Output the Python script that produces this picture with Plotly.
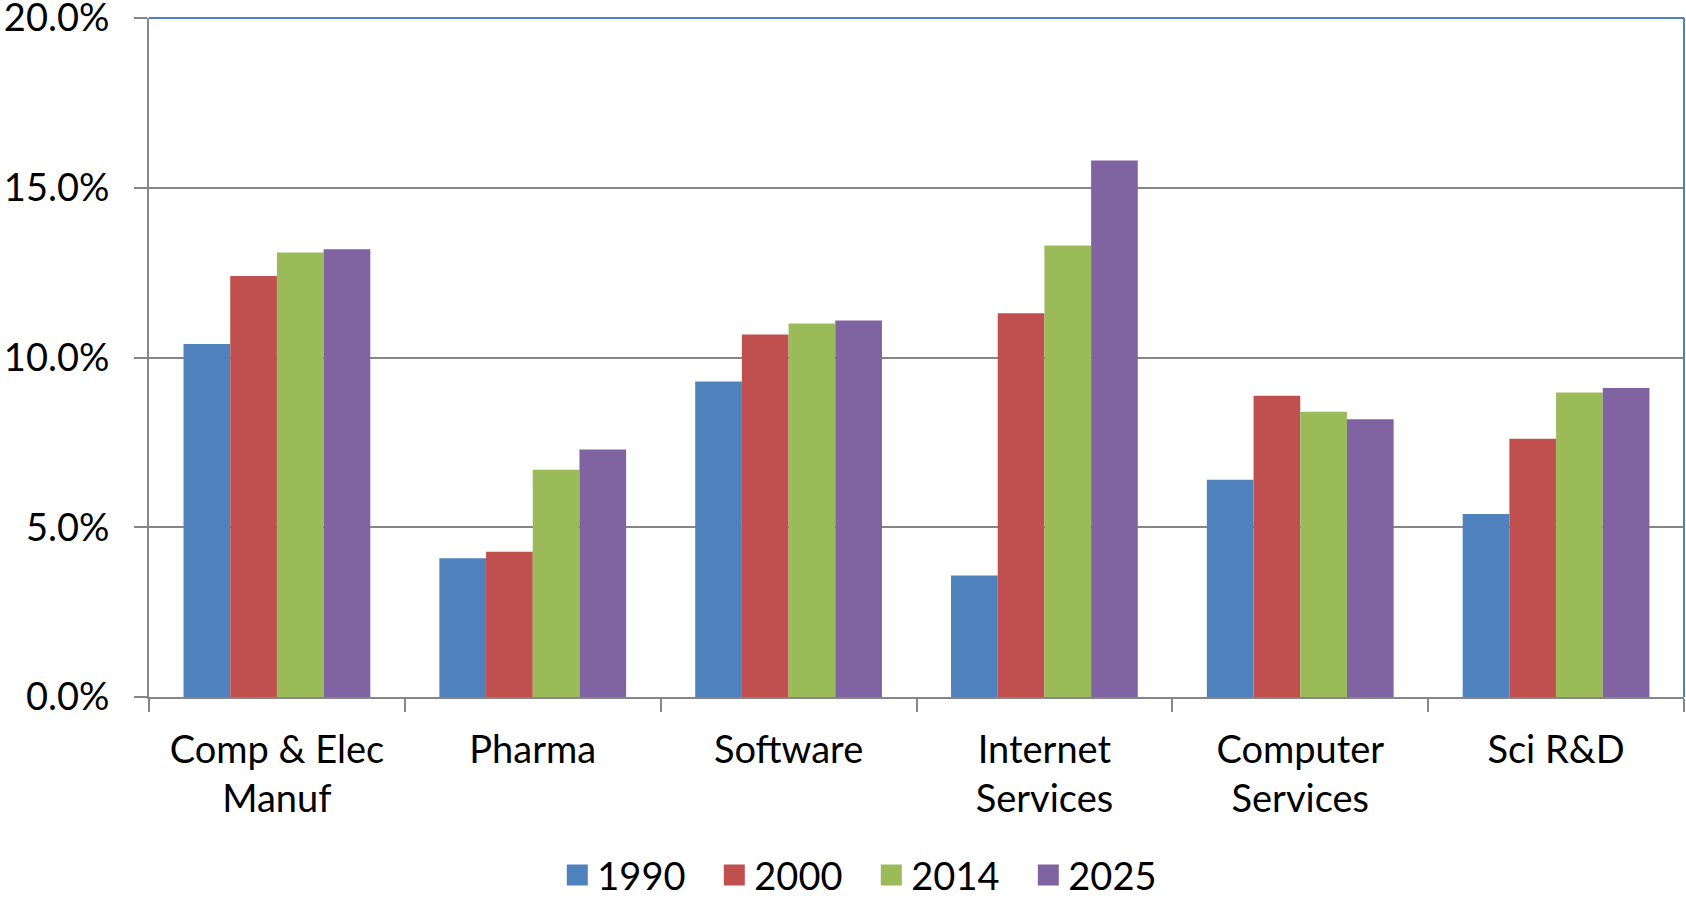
import plotly.graph_objects as go

categories = ["Comp & Elec<br>Manuf", "Pharma", "Software", "Internet<br>Services", "Computer<br>Services", "Sci R&D"]
years = ["1990", "2000", "2014", "2025"]
v1990 = [10.40, 4.09, 9.29, 3.58, 6.40, 5.39]
v2000 = [12.40, 4.28, 10.68, 11.30, 8.87, 7.61]
v2014 = [13.09, 6.69, 11.00, 13.30, 8.40, 8.97]
v2025 = [13.19, 7.29, 11.09, 15.80, 8.18, 9.10]
colors = ["#4F81BD", "#C0504D", "#9BBB59", "#8064A2"]
series = [v1990, v2000, v2014, v2025]

FONT = "Lato"
fig = go.Figure()
for name, vals, col in zip(years, series, colors):
    fig.add_trace(go.Bar(
        x=categories, y=[v / 100 for v in vals], name=name,
        marker=dict(color=col, line=dict(width=0)), showlegend=False,
    ))
for name, col in zip(years, colors):
    fig.add_trace(go.Scatter(
        x=[None], y=[None], mode="markers", name=name,
        marker=dict(symbol="square", size=16, color=col, line=dict(color=col, width=8)),
    ))

fig.update_layout(
    width=1686, height=898,
    margin=dict(l=149, r=2, t=18, b=201, autoexpand=False),
    paper_bgcolor="white", plot_bgcolor="white",
    barmode="group", bargap=0.27, bargroupgap=0,
    font=dict(family=FONT, size=38, color="black"),
    legend=dict(orientation="h", x=0.266, xanchor="left", y=-0.2625, yanchor="middle",
                font=dict(family=FONT, size=38), itemwidth=30, entrywidth=112,
                tracegroupgap=0, bgcolor="rgba(0,0,0,0)"),
    xaxis=dict(
        type="category", tickson="boundaries", ticks="outside", ticklen=13, tickwidth=2,
        tickcolor="#868686", showline=True, linecolor="#868686", linewidth=2,
        showgrid=False, tickfont=dict(family=FONT, size=38), ticklabelstandoff=18,
        automargin=False,
    ),
    yaxis=dict(
        range=[0, 0.2], dtick=0.05, tickformat=".1%", ticks="outside", ticklen=13,
        tickwidth=2, tickcolor="#868686", showline=True, linecolor="#868686", linewidth=2,
        showgrid=True, gridcolor="#868686", gridwidth=2, zeroline=False,
        tickfont=dict(family=FONT, size=38), ticklabelstandoff=17,
        automargin=False, ticklabeloverflow="allow",
    ),
    shapes=[
        dict(type="line", xref="paper", yref="paper", x0=0, x1=1, y0=1, y1=1,
             line=dict(color="#4F81BD", width=2), layer="above"),
        dict(type="line", xref="paper", yref="paper", x0=1, x1=1, y0=0, y1=1,
             line=dict(color="#4F81BD", width=2), layer="above"),
    ],
)

fig.write_html(
    "out.html",
    config={"displayModeBar": False},
    post_script="document.body.style.margin='0';document.body.style.overflow='hidden';",
)
